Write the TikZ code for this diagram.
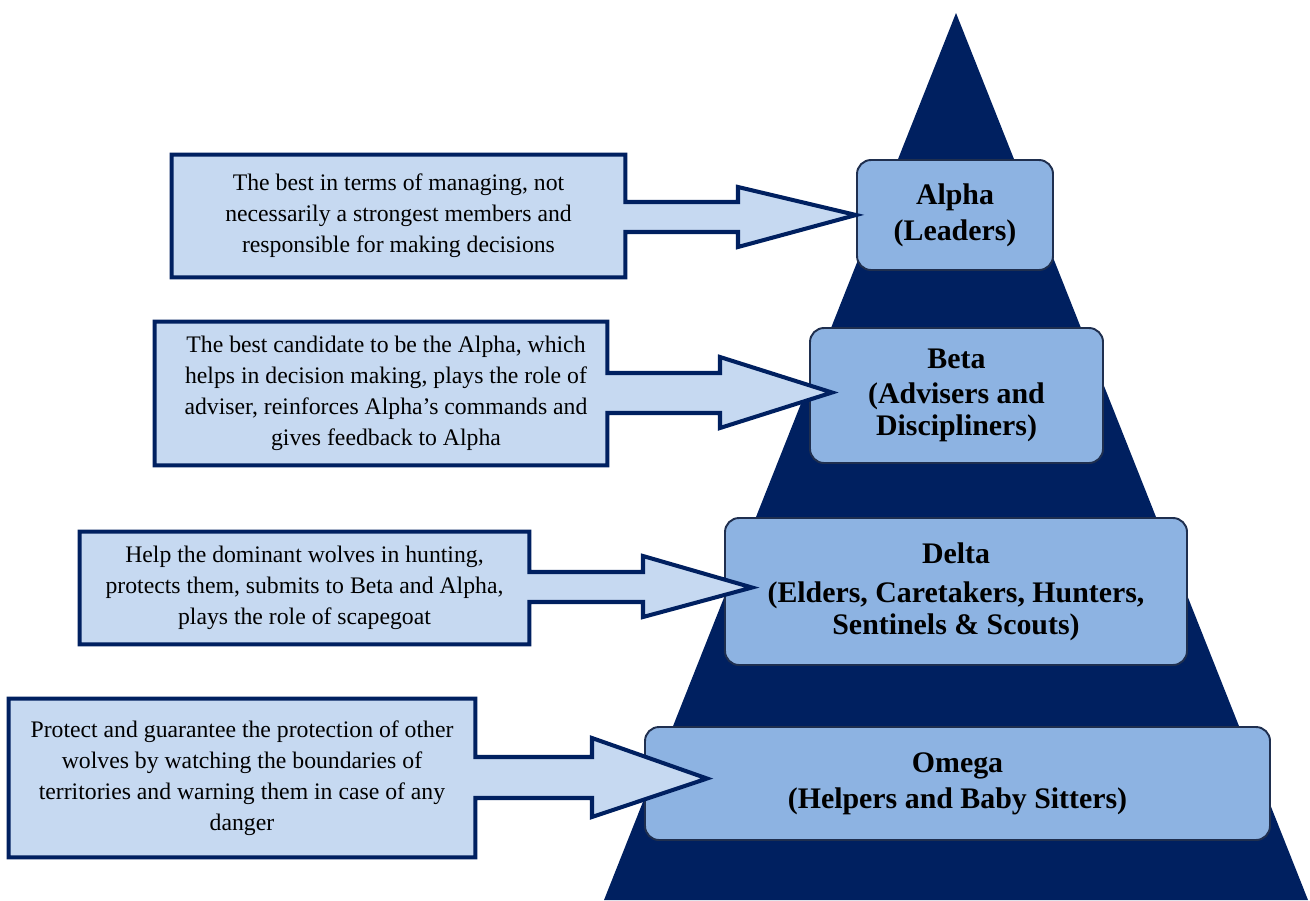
\documentclass[tikz,border=0pt]{standalone}
\usepackage{fontspec}
\setmainfont{Liberation Serif}
\usetikzlibrary{calc}
\definecolor{navy}{HTML}{002060}
\definecolor{tierfill}{HTML}{8DB3E2}
\definecolor{notefill}{HTML}{C6D9F1}
\definecolor{tierline}{HTML}{1F2F4F}
\newlength{\pxu}
\setlength{\pxu}{0.02cm}
\pgfdeclarelayer{back}
\pgfdeclarelayer{mid}
\pgfsetlayers{back,mid,main}

\begin{document}
\begin{tikzpicture}[x=0.02cm,y=-0.02cm,
	tier/.style={draw=tierline, line width=1.1pt, fill=tierfill, rounded corners=8pt, align=center, inner sep=0pt, font=\bfseries\fontsize{17}{18.3}\selectfont},
	note/.style={align=center, inner sep=0pt, font=\fontsize{13.5}{17.6}\selectfont},
	callout/.style={draw=navy, line width=2.3pt, fill=notefill, line join=miter}]
	\useasboundingbox (0,0) rectangle (1310,900);
	\begin{pgfonlayer}{back}
	\fill[navy] (956,13) -- (1308,900) -- (604,900) -- cycle;
	\node [tier, minimum width=196\pxu, minimum height=110\pxu] (alpha) at (955,215) {Alpha\\[2pt](Leaders)};
	\node [tier, minimum width=293\pxu, minimum height=135\pxu] (beta) at (956.5,395.5) {Beta\\[1.5pt](Advisers and\\Discipliners)};
	\node [tier, minimum width=462\pxu, minimum height=147\pxu] (delta) at (956,591.5) {Delta\\[4pt](Elders, Caretakers, Hunters,\\Sentinels \& Scouts)};
	\node [tier, minimum width=625\pxu, minimum height=113\pxu] (omega) at (957.5,783.5) {Omega\\[2pt](Helpers and Baby Sitters)};
	\end{pgfonlayer}

	\node [note, minimum width=453\pxu, minimum height=122\pxu] (n1) at (398.5,216) {The best in terms of managing, not\\necessarily a strongest members and\\responsible for making decisions};
	\node [note, minimum width=452\pxu, minimum height=143\pxu] (n2) at (381,393.5) {\hspace{10\pxu}The best candidate to be the Alpha, which\\\hspace{10\pxu}helps in decision making, plays the role of\\\hspace{10\pxu}adviser, reinforces Alpha’s commands and\\\hspace{10\pxu}gives feedback to Alpha};
	\node [note, minimum width=449\pxu, minimum height=112\pxu] (n3) at (304.5,588) {Help the dominant wolves in hunting,\\protects them, submits to Beta and Alpha,\\plays the role of scapegoat};
	\node [note, minimum width=466\pxu, minimum height=158\pxu] (n4) at (242,778) {Protect and guarantee the protection of other\\wolves by watching the boundaries of\\territories and warning them in case of any\\danger};

	\begin{pgfonlayer}{mid}
	\draw[callout] (n1.north west) -- (n1.north east) -- (n1.east |- 0,202) -- (738,202) -- (738,187) -- (alpha.west) -- (738,247) -- (738,232) -- (n1.east |- 0,232) -- (n1.south east) -- (n1.south west) -- cycle;
	\draw[callout] (n2.north west) -- (n2.north east) -- (n2.east |- 0,373) -- (720,373) -- (720,357) -- ($(beta.west)+(23,-3)$) -- (720,428) -- (720,413) -- (n2.east |- 0,413) -- (n2.south east) -- (n2.south west) -- cycle;
	\draw[callout] (n3.north west) -- (n3.north east) -- (n3.east |- 0,572) -- (643,572) -- (643,556) -- ($(delta.west)+(28,-4)$) -- (643,617) -- (643,602) -- (n3.east |- 0,602) -- (n3.south east) -- (n3.south west) -- cycle;
	\draw[callout] (n4.north west) -- (n4.north east) -- (n4.east |- 0,757) -- (592,757) -- (592,738) -- ($(omega.west)+(63,-5)$) -- (592,817) -- (592,798) -- (n4.east |- 0,798) -- (n4.south east) -- (n4.south west) -- cycle;
	\end{pgfonlayer}
\end{tikzpicture}
\end{document}
